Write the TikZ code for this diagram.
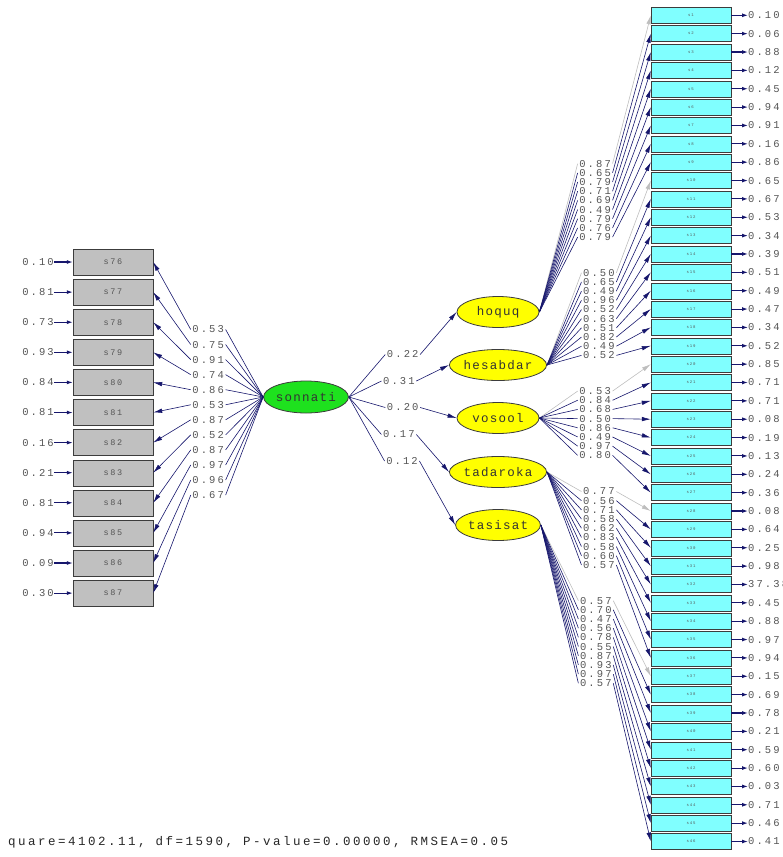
\documentclass[tikz,border=0pt]{standalone}
\usepackage{fontspec}
\usetikzlibrary{shapes.geometric,arrows.meta}
\newfontfamily\lisfont[LetterSpace=20]{Liberation Mono}
\newfontfamily\latfont[LetterSpace=10]{Liberation Mono}
\definecolor{pathnavy}{RGB}{22,22,108}
\definecolor{fixgray}{RGB}{190,190,190}
\definecolor{indgray}{RGB}{192,192,192}
\definecolor{indcyan}{RGB}{128,255,255}
\definecolor{exogreen}{RGB}{30,225,30}
\definecolor{endoyellow}{RGB}{255,255,0}
\definecolor{txtgray}{RGB}{85,85,85}
\definecolor{boxedge}{RGB}{60,60,60}

\begin{document}
\begin{tikzpicture}[x=1pt,y=-1pt,
  exolat/.style={ellipse,draw=boxedge,line width=0.8pt,fill=exogreen,minimum width=82pt,minimum height=32pt,inner sep=0pt,font=\latfont\fontsize{12.5}{12.5}\selectfont,text=black!80},
  endolat/.style={exolat,fill=endoyellow,minimum height=31pt},
  leftbox/.style={draw=boxedge,fill=indgray,minimum width=80pt,minimum height=26pt,inner sep=0pt,font=\lisfont\fontsize{8.5}{8.5}\selectfont,text=txtgray},
  rightbox/.style={draw=boxedge,fill=indcyan,minimum width=80pt,minimum height=16pt,inner sep=0pt,font=\lisfont\fontsize{4}{4}\selectfont,text=txtgray},
  loadlbl/.style={inner sep=1.5pt,font=\lisfont\fontsize{10.5}{10.5}\selectfont,text=txtgray},
  errlbl/.style={inner sep=0pt,font=\lisfont\fontsize{10.5}{10.5}\selectfont,text=txtgray},
  pathline/.style={draw=pathnavy,line width=0.6pt},
  loadarrow/.style={pathline,-{Latex[length=9pt,width=4.5pt]}},
  fixarrow/.style={draw=fixgray,line width=0.6pt,-{Latex[length=9pt,width=4.5pt]}},
  errarrow/.style={draw=pathnavy,line width=1.1pt,-{Latex[length=6pt,width=4pt]}}]
\useasboundingbox (0,0) rectangle (783,857);

% latent variables
\path (306,397) node[exolat] (sonnati) {sonnati}
      (498,312) node[endolat] (hoquq) {hoquq}
      (498,365) node[endolat] (hesabdar) {hesabdar}
      (498,418) node[endolat] (vosool) {vosool}
      (498,472) node[endolat] (tadaroka) {tadaroka}
      (498,525) node[endolat] (tasisat) {tasisat};

% sonnati -> first order factors
\foreach \f/\g in {hoquq/0.22, hesabdar/0.31, vosool/0.20, tadaroka/0.17, tasisat/0.12}
{
  \path (node cs:name=sonnati,anchor=east) -- (node cs:name=\f,anchor=west) node[loadlbl,pos=.5] (g-\f) {\g};
  \draw[pathline] (node cs:name=sonnati,anchor=east) -- (node cs:name=g-\f,anchor=west);
  \draw[loadarrow] (node cs:name=g-\f,anchor=east) -- (node cs:name=\f,anchor=west);
}

% indicators of sonnati
\foreach \n/\l/\e [count=\k from 0] in {76/0.53/0.10, 77/0.75/0.81, 78/0.91/0.73, 79/0.74/0.93,
    80/0.86/0.84, 81/0.53/0.81, 82/0.87/0.16, 83/0.52/0.21, 84/0.87/0.81, 85/0.97/0.94,
    86/0.96/0.09, 87/0.67/0.30}
{
  \path (113,{262+30.1*\k}) node[leftbox] (s\n) {s\n}
        (54,{262+30.1*\k}) node[errlbl,anchor=east] (e\n) {\e};
  \path (node cs:name=sonnati,anchor=west) -- (node cs:name=s\n,anchor=east) node[loadlbl,pos=.5] (l\n) {\l};
  \draw[pathline] (node cs:name=sonnati,anchor=west) -- (node cs:name=l\n,anchor=east);
  \draw[loadarrow] (node cs:name=l\n,anchor=west) -- (node cs:name=s\n,anchor=east);
  \draw[errarrow] (node cs:name=e\n,anchor=east) -- (node cs:name=s\n,anchor=west);
}

% indicators of the first order factors
\foreach \n/\f/\l/\e/\s in {
    1/hoquq/0.87/0.10/fixarrow, 2/hoquq/0.65/0.06/loadarrow, 3/hoquq/0.79/0.88/loadarrow,
    4/hoquq/0.71/0.12/loadarrow, 5/hoquq/0.69/0.45/loadarrow, 6/hoquq/0.49/0.94/loadarrow,
    7/hoquq/0.79/0.91/loadarrow, 8/hoquq/0.76/0.16/loadarrow, 9/hoquq/0.79/0.86/loadarrow,
    10/hesabdar/0.50/0.65/fixarrow, 11/hesabdar/0.65/0.67/loadarrow, 12/hesabdar/0.49/0.53/loadarrow,
    13/hesabdar/0.96/0.34/loadarrow, 14/hesabdar/0.52/0.39/loadarrow, 15/hesabdar/0.63/0.51/loadarrow,
    16/hesabdar/0.51/0.49/loadarrow, 17/hesabdar/0.82/0.47/loadarrow, 18/hesabdar/0.49/0.34/loadarrow,
    19/hesabdar/0.52/0.52/loadarrow,
    20/vosool/0.53/0.85/fixarrow, 21/vosool/0.84/0.71/loadarrow, 22/vosool/0.68/0.71/loadarrow,
    23/vosool/0.50/0.08/loadarrow, 24/vosool/0.86/0.19/loadarrow, 25/vosool/0.49/0.13/loadarrow,
    26/vosool/0.97/0.24/loadarrow, 27/vosool/0.80/0.36/loadarrow,
    28/tadaroka/0.77/0.08/fixarrow, 29/tadaroka/0.56/0.64/loadarrow, 30/tadaroka/0.71/0.25/loadarrow,
    31/tadaroka/0.58/0.98/loadarrow, 32/tadaroka/0.62/37.38/loadarrow, 33/tadaroka/0.83/0.45/loadarrow,
    34/tadaroka/0.58/0.88/loadarrow, 35/tadaroka/0.60/0.97/loadarrow, 36/tadaroka/0.57/0.94/loadarrow,
    37/tasisat/0.57/0.15/fixarrow, 38/tasisat/0.70/0.69/loadarrow, 39/tasisat/0.47/0.78/loadarrow,
    40/tasisat/0.56/0.21/loadarrow, 41/tasisat/0.78/0.59/loadarrow, 42/tasisat/0.55/0.60/loadarrow,
    43/tasisat/0.87/0.03/loadarrow, 44/tasisat/0.93/0.71/loadarrow, 45/tasisat/0.97/0.46/loadarrow,
    46/tasisat/0.57/0.41/loadarrow}
{
  \path (691,{15.3+18.36*(\n-1)}) node[rightbox] (s\n) {s\n}
        (748,{15.3+18.36*(\n-1)}) node[errlbl,anchor=west] (e\n) {\e};
  \path (node cs:name=\f,anchor=east) -- (node cs:name=s\n,anchor=west) node[loadlbl,pos=.5] (l\n) {\l};
  \draw[\s,-] (node cs:name=\f,anchor=east) -- (node cs:name=l\n,anchor=west);
  \draw[\s] (node cs:name=l\n,anchor=east) -- (node cs:name=s\n,anchor=west);
  \draw[errarrow] (node cs:name=s\n,anchor=east) -- (node cs:name=e\n,anchor=west);
}

% fit line
\node[anchor=west,inner sep=0pt,font=\lisfont\fontsize{12.5}{12.5}\selectfont,text=black!85] (fit) at (8,842)
  {quare=4102.11, df=1590, P-value=0.00000, RMSEA=0.05};
\end{tikzpicture}
\end{document}
